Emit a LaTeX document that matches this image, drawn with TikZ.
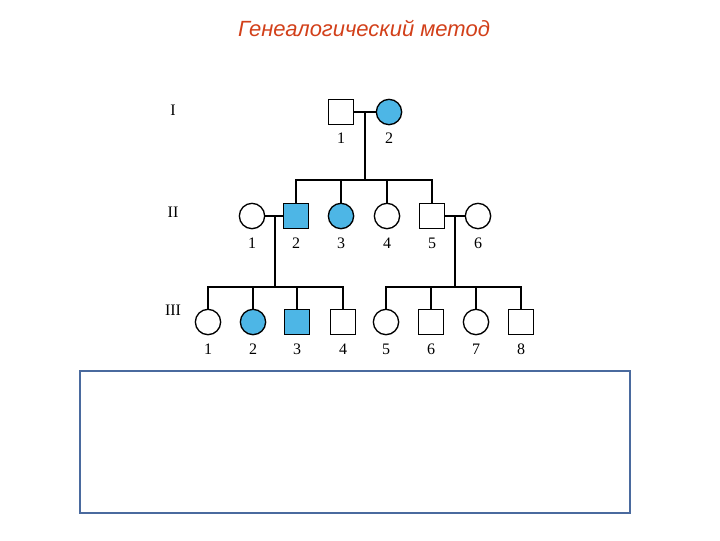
\documentclass[tikz,border=0pt]{standalone}
\usepackage{fontspec}
\setmainfont{Liberation Serif}
\newfontfamily\ttl{Liberation Sans}
\definecolor{affc}{HTML}{4DB6E6}
\definecolor{boxc}{HTML}{4A6A9E}
\definecolor{ttlc}{HTML}{D2401A}
\begin{document}
\begin{tikzpicture}[x=0.75pt,y=-0.75pt,
  m/.style={draw=black,line width=1pt,minimum size=18.5pt,inner sep=0pt,rectangle},
  f/.style={draw=black,line width=1pt,minimum size=19pt,inner sep=0pt,circle},
  aff/.style={fill=affc},
  ln/.style={line width=1.6pt},
  num/.style={font=\fontsize{12}{12}\selectfont},
  gen/.style={font=\fontsize{12}{12}\selectfont}]
\useasboundingbox (0,0) rectangle (720,540);
\node[font=\ttl\itshape\fontsize{16.5}{16.5}\selectfont,text=ttlc] (title) at (364,28) {Генеалогический метод};
\node[gen] (g1) at (173,110) {I};
\node[gen] (g2) at (173,212) {II};
\node[gen] (g3) at (173,310) {III};
% Gen I
\node[m] (a1) at (341,112) {}; \node[num] (na1) at (341,138) {1};
\node[f,aff] (a2) at (389,112) {}; \node[num] (na2) at (389,138) {2};
\coordinate (ma) at (365,112);
\coordinate (sa) at (365,180);
% Gen II
\node[f] (b1) at (252,216) {}; \node[num] (nb1) at (252,243) {1};
\node[m,aff] (b2) at (296,216) {}; \node[num] (nb2) at (296,243) {2};
\node[f,aff] (b3) at (341,216) {}; \node[num] (nb3) at (341,243) {3};
\node[f] (b4) at (387,216) {}; \node[num] (nb4) at (387,243) {4};
\node[m] (b5) at (432,216) {}; \node[num] (nb5) at (432,243) {5};
\node[f] (b6) at (478,216) {}; \node[num] (nb6) at (478,243) {6};
% Gen III
\node[f] (c1) at (208,322) {}; \node[num] (nc1) at (208,349) {1};
\node[f,aff] (c2) at (253,322) {}; \node[num] (nc2) at (253,349) {2};
\node[m,aff] (c3) at (297,322) {}; \node[num] (nc3) at (297,349) {3};
\node[m] (c4) at (343,322) {}; \node[num] (nc4) at (343,349) {4};
\node[f] (c5) at (386,322) {}; \node[num] (nc5) at (386,349) {5};
\node[m] (c6) at (431,322) {}; \node[num] (nc6) at (431,349) {6};
\node[f] (c7) at (476,322) {}; \node[num] (nc7) at (476,349) {7};
\node[m] (c8) at (521,322) {}; \node[num] (nc8) at (521,349) {8};
% lines
\draw[ln] (a1.east) -- (a2.west);
\draw[ln] (ma) -- (sa);
\draw[ln] (b2.north) -- (296,180) -- (432,180) -- (b5.north);
\draw[ln] (b3.north) -- (341,180);
\draw[ln] (b4.north) -- (387,180);
\draw[ln] (b1.east) -- (b2.west);
\draw[ln] (b5.east) -- (b6.west);
\draw[ln] (275,216) -- (275,287);
\draw[ln] (455,216) -- (455,287);
\draw[ln] (c1.north) -- (208,287) -- (343,287) -- (c4.north);
\draw[ln] (c2.north) -- (253,287);
\draw[ln] (c3.north) -- (297,287);
\draw[ln] (c5.north) -- (386,287) -- (521,287) -- (c8.north);
\draw[ln] (c6.north) -- (431,287);
\draw[ln] (c7.north) -- (476,287);
\node[draw=boxc,line width=1.5pt,minimum width=412pt,minimum height=106pt,inner sep=0pt] (box) at (355,442) {};
\end{tikzpicture}
\end{document}
